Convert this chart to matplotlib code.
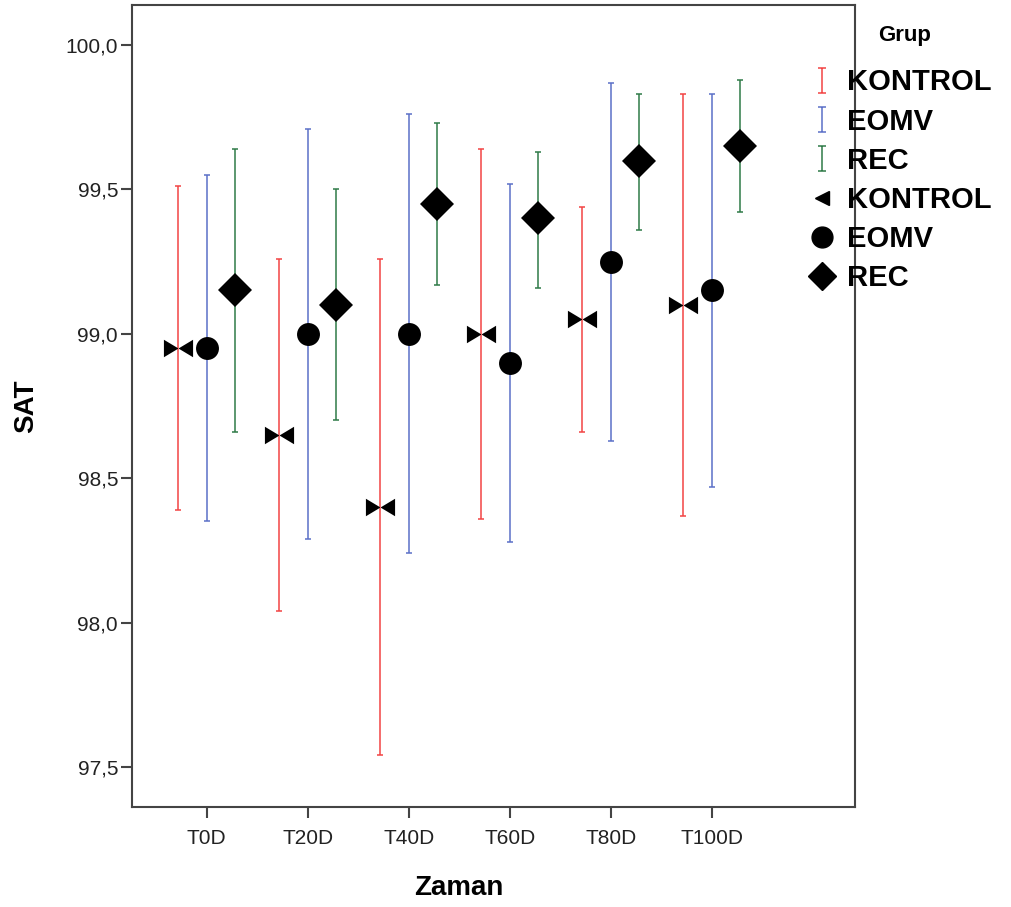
import numpy as np
import matplotlib.pyplot as plt
from matplotlib.path import Path
from matplotlib.lines import Line2D

plt.rcParams['font.family'] = ['Liberation Sans', 'DejaVu Sans']

times = ["T0D", "T20D", "T40D", "T60D", "T80D", "T100D"]

kontrol_mean = [98.95, 98.65, 98.40, 99.00, 99.05, 99.10]
kontrol_low = [98.39, 98.04, 97.54, 98.36, 98.66, 98.37]
kontrol_high = [99.51, 99.26, 99.26, 99.64, 99.44, 99.83]

eomv_mean = [98.95, 99.00, 99.00, 98.90, 99.25, 99.15]
eomv_low = [98.35, 98.29, 98.24, 98.28, 98.63, 98.47]
eomv_high = [99.55, 99.71, 99.76, 99.52, 99.87, 99.83]

rec_mean = [99.15, 99.10, 99.45, 99.40, 99.60, 99.65]
rec_low = [98.66, 98.70, 99.17, 99.16, 99.36, 99.42]
rec_high = [99.64, 99.50, 99.73, 99.63, 99.83, 99.88]

groups = ["KONTROL", "EOMV", "REC"]
colors = ["#f24444", "#5b70c8", "#2f7a48"]

# bow-tie marker: two triangles meeting at the centre
bowtie = Path(
    [(-1, 0.6), (0, 0), (-1, -0.6), (-1, 0.6),
     (1, 0.6), (0, 0), (1, -0.6), (1, 0.6)],
    [Path.MOVETO, Path.LINETO, Path.LINETO, Path.CLOSEPOLY,
     Path.MOVETO, Path.LINETO, Path.LINETO, Path.CLOSEPOLY])

# "I" shaped legend symbol for the error bars
ibar = Path(
    [(-0.3, 1), (0.3, 1), (0, 1), (0, -1), (-0.3, -1), (0.3, -1)],
    [Path.MOVETO, Path.LINETO, Path.MOVETO, Path.LINETO, Path.MOVETO, Path.LINETO])

fig = plt.figure(figsize=(10.12, 9.07), dpi=100)
ax = fig.add_axes([0.1304, 0.1103, 0.7146, 0.8842])

x = np.arange(len(times))
offsets = [-0.28, 0.0, 0.28]
means = [kontrol_mean, eomv_mean, rec_mean]
lows = [kontrol_low, eomv_low, rec_low]
highs = [kontrol_high, eomv_high, rec_high]
markers = [bowtie, "o", "D"]
msizes = [21, 16.5, 17]

for m, lo, hi, off, c in zip(means, lows, highs, offsets, colors):
    m = np.array(m)
    yerr = [m - np.array(lo), np.array(hi) - m]
    ax.errorbar(x + off, m, yerr=yerr, fmt="none", ecolor=c,
                elinewidth=1.1, capsize=2.5, capthick=1.1, zorder=2)

for m, off, mk, ms in zip(means, offsets, markers, msizes):
    ax.plot(x + off, m, linestyle="none", marker=mk, markersize=ms,
            color="black", markeredgewidth=0, zorder=3)

ax.set_xlim(-0.74, 6.42)
ax.set_ylim(97.3615, 100.1385)
ax.set_xticks(x)
ax.set_xticklabels(times)
yt = [97.5, 98.0, 98.5, 99.0, 99.5, 100.0]
ax.set_yticks(yt)
ax.set_yticklabels([f"{v:.1f}".replace(".", ",") for v in yt])
ax.tick_params(labelsize=15, length=8, width=1.5, color="#444444",
               labelcolor="#222222", direction="out")
ax.tick_params(axis="y", pad=2)
ax.tick_params(axis="x", pad=8)
for s in ax.spines.values():
    s.set_color("#444444")
    s.set_linewidth(1.5)

ax.set_xlabel("Zaman", fontsize=20, fontweight="bold")
ax.set_ylabel("SAT", fontsize=20, fontweight="bold")
ax.xaxis.set_label_coords(0.452, -0.085)
ax.yaxis.set_label_coords(-0.128, 0.5)

handles = [Line2D([], [], linestyle="none", marker=ibar, markersize=18,
                  markerfacecolor="none", markeredgecolor=c,
                  markeredgewidth=1.1) for c in colors]
handles += [
    Line2D([], [], linestyle="none", marker="<", markersize=10, color="black"),
    Line2D([], [], linestyle="none", marker="o", markersize=15, color="black"),
    Line2D([], [], linestyle="none", marker="D", markersize=14, color="black"),
]
labels = groups + groups

fig.text(905 / 1012, 1 - 35 / 907, "Grup", fontsize=16, fontweight="bold",
         ha="center", va="center")
fig.legend(handles, labels, loc="upper left",
           bbox_to_anchor=(0.8024, 1 - 68.5 / 907), frameon=False,
           handlelength=0.7, handletextpad=0.5, labelspacing=0.38,
           borderpad=0, borderaxespad=0,
           prop={"size": 21, "weight": "bold"})

fig.savefig("out.png", dpi=100)
